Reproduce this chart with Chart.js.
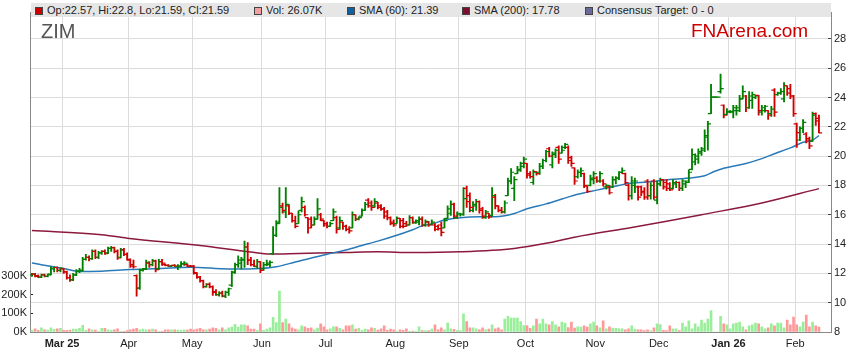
<!DOCTYPE html>
<html>
<head>
<meta charset="utf-8">
<script src="https://cdn.jsdelivr.net/npm/chart.js@4.4.1/dist/chart.umd.min.js"></script>
<style>
  body { margin: 0; background: #fff; font-family: "Liberation Sans", Arial, sans-serif; }
  #wrap { position: relative; width: 859px; height: 363px; }
  #legend { position: absolute; left: 31px; top: 3px; width: 800px; height: 14px; background: #e6e6e6; font-size: 11px; color: #222; }
  .sq { position: absolute; top: 4px; width: 6px; height: 6px; border: 1px solid #444; }
  .txt { position: absolute; top: 0; line-height: 14px; white-space: nowrap; }
  #ticker { position: absolute; left: 41px; top: 20px; font-size: 20px; color: #555; }
  #brand { position: absolute; left: 691px; top: 20px; font-size: 19px; color: #cc0000; }
</style>
</head>
<body>
<div id="wrap">
  <canvas id="myChart" width="859" height="363"></canvas>
  <div id="legend"></div>
  <div id="ticker">ZIM</div>
  <div id="brand">FNArena.com</div>
</div>
<script>
// daily bars, 14 Feb 2025 .. 11 Feb 2026 (index = trading day)
const opens = [
  11.9,11.95,11.85,11.75,11.9,11.8,11.95,12.3,12.4,12.2, 12.3,12.1,11.7,11.55,11.9,12.15,12.2,12.95,13.1,13.0,
  13.5,13.1,13.4,13.5,13.4,13.7,13.75,13.5,13.1,13.6, 13.3,12.9,12.6,11.85,11.0,12.2,12.3,12.7,12.6,12.85,
  12.3,12.8,12.6,12.55,12.5,12.55,12.45,12.5,12.65,12.6, 12.5,12.5,12.0,11.75,11.5,11.1,11.25,11.1,10.75,10.55,
  10.65,10.45,10.7,11.2,12.1,12.6,12.7,12.9,13.8,12.9, 12.6,12.45,12.8,12.3,12.6,12.6,13.35,14.6,15.5,16.6,
  16.2,16.6,16.1,15.6,15.4,16.3,16.5,15.8,15.7,15.3, 15.7,16.0,15.6,15.4,15.2,15.6,15.8,15.1,15.5,15.2,
  15.0,15.1,16.0,15.7,15.9,16.3,17.0,16.8,16.6,16.8, 16.6,16.4,16.2,15.8,15.5,15.4,15.75,15.6,15.4,15.3,
  15.8,15.45,15.5,15.7,15.3,15.5,15.35,15.3,15.2,15.3, 15.1,15.75,16.1,16.7,15.8,16.0,16.0,17.8,17.3,16.3,
  16.6,16.9,16.4,15.8,16.1,15.95,17.2,16.6,16.3,16.2, 17.3,18.3,17.8,18.8,19.0,19.3,19.5,18.8,18.2,18.95,
  18.9,19.3,19.7,20.5,19.4,20.1,20.6,20.2,20.6,20.6, 19.9,19.2,18.6,18.9,18.8,17.95,18.0,18.4,18.5,18.3,
  18.3,17.9,17.9,17.9,18.4,18.5,18.9,18.8,18.0,17.3, 18.0,17.9,17.9,17.6,18.3,17.3,18.3,17.0,18.1,18.4,
  18.2,18.1,17.8,18.1,18.2,17.8,18.1,18.3,19.1,19.6, 19.8,20.2,20.4,21.3,22.9,24.03,24.03,24.4,23.47,22.85,
  23.0,23.0,23.1,23.1,23.9,24.1,23.3,23.8,24.0,24.14, 23.0,23.1,23.1,22.9,24.5,24.2,24.3,23.9,24.8,24.6,
  24.1,22.2,21.1,21.9,21.5,21.2,21.0,22.9,22.57
];
const highs = [
  12.0,12.0,11.9,11.95,11.95,11.95,12.45,12.45,12.45,12.4, 12.35,12.15,11.9,12.0,12.25,12.35,13.1,13.3,13.2,13.6,
  13.6,13.5,13.55,13.6,13.8,13.85,13.8,13.6,13.7,13.7, 13.4,13.0,12.9,11.9,12.3,12.35,12.9,12.8,12.95,12.9,
  12.95,12.95,12.65,12.6,12.55,12.6,12.6,12.8,12.8,12.65, 12.55,12.55,12.05,11.8,11.55,11.3,11.35,11.15,10.9,10.75,
  10.8,10.8,11.0,12.15,12.7,13.2,13.1,14.2,14.1,13.1, 12.9,12.95,12.8,12.75,12.9,12.85,15.2,15.6,17.85,16.8,
  17.85,16.7,16.1,15.9,16.25,17.2,16.6,15.8,15.85,15.85, 17.1,16.1,15.6,15.5,15.5,16.4,15.9,15.85,15.5,15.3,
  15.2,16.2,16.0,15.85,16.4,16.85,17.1,16.95,17.1,16.85, 16.7,16.5,16.3,15.85,15.65,15.85,15.75,15.75,15.55,15.95,
  15.85,15.65,15.85,15.85,15.65,15.55,15.65,15.4,15.3,15.5, 15.75,16.6,16.95,16.8,16.2,16.1,17.85,17.96,17.5,16.9,
  17.05,16.95,16.5,16.3,16.1,17.85,17.4,16.6,16.5,16.95, 18.5,19.15,18.6,19.3,19.6,19.94,19.5,18.95,19.06,18.95,
  19.5,19.8,20.4,20.6,20.3,20.5,20.7,20.7,20.87,20.7, 20.0,19.2,19.06,19.2,18.85,17.96,18.7,18.95,18.6,18.95,
  18.4,18.05,18.0,18.6,18.6,18.95,19.2,18.85,18.07,18.6, 18.5,17.96,17.96,17.85,18.4,18.2,18.4,18.3,18.5,18.4,
  18.4,18.2,18.4,18.3,18.25,18.4,18.3,19.06,20.5,20.16, 20.5,20.6,21.8,22.37,24.9,24.03,24.03,25.6,23.5,23.25,
  23.1,23.47,23.47,24.14,24.8,24.14,24.4,24.36,24.14,24.14, 23.47,23.47,23.1,23.4,24.6,24.36,24.6,25.02,24.8,24.9,
  24.14,22.26,22.0,22.5,21.6,21.3,23.0,22.95,22.8
];
const lows = [
  11.8,11.75,11.7,11.7,11.75,11.75,11.9,12.1,12.1,12.1, 12.0,11.6,11.45,11.5,11.85,12.05,12.15,12.9,12.85,12.95,
  13.0,13.0,13.3,13.3,13.35,13.5,13.4,12.95,13.05,13.2, 12.9,12.4,12.35,10.45,10.9,12.15,12.25,12.4,12.5,12.1,
  12.25,12.55,12.5,12.45,12.45,12.45,12.25,12.45,12.55,12.45, 12.45,11.95,11.65,11.4,11.0,11.05,11.0,10.5,10.5,10.45,
  10.4,10.35,10.5,11.1,12.0,12.4,12.3,12.4,12.6,12.5, 12.45,12.35,12.05,12.2,12.5,12.45,13.3,14.5,15.4,16.1,
  15.8,16.0,15.5,15.1,15.4,16.2,15.9,14.75,15.1,15.3, 15.7,15.6,15.2,15.1,15.2,15.6,14.75,15.0,15.0,14.9,
  14.75,15.1,15.6,15.65,15.9,16.3,16.5,16.3,16.5,16.4, 16.3,15.75,15.65,15.3,15.2,15.4,15.1,15.1,15.2,15.3,
  15.4,15.4,15.3,15.2,15.2,15.2,15.3,14.9,14.95,14.55, 15.1,15.75,15.95,15.75,15.75,15.9,15.95,16.5,16.2,16.2,
  16.3,16.1,15.75,15.75,15.75,15.9,16.4,16.2,16.1,16.1, 17.3,18.1,16.96,18.8,18.95,19.2,18.5,18.5,18.07,18.7,
  18.75,19.15,19.6,19.94,19.2,19.9,19.5,20.2,20.5,19.5, 19.3,18.07,18.5,18.6,17.85,17.5,17.96,18.1,18.2,18.2,
  17.96,17.74,17.4,17.85,18.1,18.4,18.8,18.07,17.0,17.07, 17.5,17.0,17.3,17.05,17.05,17.07,17.05,16.74,17.96,17.74,
  17.65,17.65,17.74,17.85,17.65,17.65,17.85,18.18,19.06,19.4, 19.5,20.05,20.3,20.4,22.9,24.03,24.03,24.3,22.6,22.8,
  22.95,22.6,22.8,23.03,23.9,23.03,23.25,23.25,23.92,22.8, 22.8,23.0,22.5,22.7,22.7,24.14,24.2,23.7,24.14,23.92,
  22.7,20.6,21.05,21.6,20.9,20.5,21.0,22.1,21.59
];
const closes = [
  11.95,11.8,11.75,11.9,11.8,11.9,12.35,12.4,12.2,12.35, 12.1,11.7,11.55,11.9,12.15,12.2,12.95,13.1,13.0,13.5,
  13.1,13.4,13.5,13.35,13.7,13.75,13.5,13.05,13.6,13.3, 12.95,12.5,12.45,11.0,12.2,12.3,12.75,12.6,12.85,12.25,
  12.8,12.7,12.55,12.5,12.55,12.5,12.5,12.65,12.7,12.5, 12.48,12.05,11.75,11.5,11.1,11.25,11.1,10.7,10.55,10.65,
  10.45,10.7,10.95,12.05,12.6,12.9,12.95,13.8,12.9,12.6, 12.5,12.8,12.2,12.6,12.7,12.75,14.6,15.4,16.5,16.3,
  16.7,16.1,15.6,15.2,16.0,16.9,16.0,15.1,15.3,15.7, 16.4,15.7,15.3,15.2,15.4,16.2,15.0,15.6,15.2,15.0,
  14.9,16.0,15.7,15.8,16.3,16.7,16.6,16.5,16.9,16.5, 16.4,15.9,15.8,15.4,15.3,15.75,15.2,15.2,15.3,15.8,
  15.5,15.6,15.7,15.3,15.55,15.3,15.5,15.0,15.05,14.8, 15.6,16.4,16.7,15.9,16.1,16.05,17.1,16.9,16.5,16.7,
  16.9,16.3,15.9,16.2,15.85,17.3,16.6,16.3,16.2,16.8, 18.3,18.9,18.4,19.1,19.5,19.8,18.7,18.6,18.9,18.8,
  19.3,19.7,20.3,20.0,20.2,20.4,19.8,20.4,20.8,19.7, 19.5,18.3,18.9,19.0,18.0,17.6,18.5,18.8,18.3,18.8,
  18.1,18.0,17.5,18.4,18.5,18.9,19.0,18.2,17.3,18.3, 18.3,17.2,17.5,17.2,17.3,18.0,17.2,18.1,18.4,17.9,
  17.8,17.7,18.2,18.2,17.8,18.3,18.2,18.9,20.1,20.0, 20.3,20.5,21.4,22.2,24.03,24.03,24.03,24.6,22.8,23.05,
  23.05,23.3,23.3,23.9,24.4,23.3,24.1,24.2,24.1,23.1, 23.3,23.4,22.8,23.2,23.0,24.3,24.4,24.8,24.3,24.1,
  22.9,21.6,21.9,22.3,21.1,20.7,22.8,22.4,21.59
];
// volume in thousands of shares
const volumes = [
  10,17,9,22,12,10,22,14,17,19, 9,9,10,15,14,19,35,9,17,12, 10,4,19,19,12,9,12,17,4,4,
  7,12,15,19,12,15,12,12,15,12, 4,4,12,12,12,12,10,9,12,10, 15,12,15,19,12,12,15,22,19,12,
  22,12,22,26,41,26,38,38,33,15, 15,9,43,9,15,22,78,50,219,50,
  69,43,22,15,12,33,28,19,22,12, 21,43,28,12,17,28,28,19,12,33, 33,38,15,19,9,15,12,22,19,10,
  17,33,9,15,12,5,12,9,17,5, 5,3,28,7,7,7,15,38,12,22, 12,48,17,14,9,7,97,55,22,22,
  17,12,22,12,15,38,17,22,12,69, 84,74,74,74,55,34,34,19,33,69, 43,69,43,38,55,38,
  28,53,48,24,53,21,28,26,33,26, 43,53,33,22,59,17,28,19,19,17, 17,12,17,33,15,12,12,7,12,7,
  22,43,40,9,7,33,17,17,7,48, 28,59,17,43,28,64,48,69,115,0, 0,84,43,38,17,43,48,53,28,12,
  33,38,48,43,28,17,22,43,33,48, 48,22,64,38,79,38,28,53,90,28, 53,33,26.07
];
const sma60Days = [0,10,15,22,31,40,50,62,68,72, 77,83,89,93,99,104,109,114,120,123,
  126,130,135,141,146,149,152,156,162,167, 172,178,183,188,194,201,207,212,215,218, 225,230,234,239,243,246,248];
const sma60 = [12.7,12.33,12.12,12.15,12.26,12.33,12.42,12.3,12.3,12.33, 12.45,12.77,13.1,13.3,13.6,13.9,14.2,14.53,14.98,15.24,
  15.37,15.64,15.8,15.86,15.86,15.93,16.08,16.41,16.74,17.07, 17.4,17.68,17.9,18.14,18.24,18.4,18.5,18.66,18.95,19.17,
  19.5,19.83,20.16,20.56,20.94,21.1,21.39];
const sma200Days = [0,22,30,53,69,75,84,99,109,120,135,152,162,171,189,200,211,230,248];
const sma200 = [14.92,14.64,14.4,13.9,13.45,13.32,13.36,13.43,13.47,13.42,13.47,13.7,14.05,14.47,15.13,15.55,16.0,16.8,17.78];

const monthStarts = [10,31,51,73,93,115,135,156,178,198,220,241];
const monthLabels = ['Mar 25','Apr','May','Jun','Jul','Aug','Sep','Oct','Nov','Dec','Jan 26','Feb'];
const priceTicks = [8,10,12,14,16,18,20,22,24,26,28];
const volTicks = [0,100,200,300];

window.addEventListener("load", setupChart);

function setupChart() {
  const n = closes.length - 1;
  const items = [
    ['#cc0000', 'Op:' + opens[n] + ', Hi:' + highs[n] + ', Lo:' + lows[n] + ', Cl:' + closes[n], 4],
    ['#f4a0a0', 'Vol: ' + volumes[n].toFixed(2) + 'K', 223],
    ['#1060a0', 'SMA (60): ' + sma60[sma60.length - 1], 316],
    ['#7a1030', 'SMA (200): ' + sma200[sma200.length - 1], 431],
    ['#6a6a9a', 'Consensus Target: 0 - 0', 554]
  ];
  const legend = document.getElementById('legend');
  items.forEach(it => {
    const sq = document.createElement('div');
    sq.className = 'sq';
    sq.style.left = it[2] + 'px';
    sq.style.background = it[0];
    legend.appendChild(sq);
    const t = document.createElement('div');
    t.className = 'txt';
    t.style.left = (it[2] + 12) + 'px';
    t.textContent = it[1];
    legend.appendChild(t);
  });

  Chart.defaults.font.family = '"Liberation Sans", Arial, sans-serif';
  Chart.defaults.font.size = 11;
  Chart.defaults.color = '#222';

  const up = closes.map((c, i) => c >= opens[i]);
  const barColors = up.map(u => u ? '#008000' : '#d00000');
  const volColors = up.map(u => u ? '#99ee99' : '#ff9999');

  const ctx = document.getElementById('myChart').getContext('2d');
  new Chart(ctx, {
    type: 'bar',
    data: {
      datasets: [{
        type: 'bar',
        label: 'Vol',
        data: volumes.map((v, i) => ({x: i, y: v * 1000})),
        yAxisID: 'yv',
        backgroundColor: volColors,
        barThickness: 2,
        grouped: false,
        order: 10
      }, {
        type: 'line',
        label: 'SMA (200)',
        data: sma200Days.map((d, i) => ({x: d, y: sma200[i]})),
        yAxisID: 'y',
        borderColor: '#8b1a3c',
        borderWidth: 1.5,
        pointRadius: 0,
        cubicInterpolationMode: 'monotone',
        order: 6
      }, {
        type: 'line',
        label: 'SMA (60)',
        data: sma60Days.map((d, i) => ({x: d, y: sma60[i]})),
        yAxisID: 'y',
        borderColor: '#2a7ab8',
        borderWidth: 1.5,
        pointRadius: 0,
        cubicInterpolationMode: 'monotone',
        order: 5
      }, {
        type: 'bar',
        label: 'Range',
        data: lows.map((l, i) => ({x: i, y: [l, highs[i]]})),
        yAxisID: 'y',
        backgroundColor: barColors,
        barThickness: 1.2,
        grouped: false,
        order: 2
      }, {
        type: 'line',
        label: 'Open',
        data: opens.map((o, i) => ({x: i - 0.5, y: o})),
        yAxisID: 'y',
        showLine: false,
        pointStyle: 'line',
        pointRadius: 1.6,
        pointBorderWidth: 1.2,
        pointBorderColor: barColors,
        order: 1
      }, {
        type: 'line',
        label: 'Close',
        data: closes.map((c, i) => ({x: i + 0.5, y: c})),
        yAxisID: 'y',
        showLine: false,
        pointStyle: 'line',
        pointRadius: 1.6,
        pointBorderWidth: 1.2,
        pointBorderColor: barColors,
        order: 1
      }]
    },
    options: {
      responsive: false,
      animation: false,
      devicePixelRatio: 1,
      layout: { padding: { top: 3, left: 0, right: 0, bottom: 0 } },
      plugins: { legend: { display: false }, tooltip: { enabled: false } },
      scales: {
        x: {
          type: 'linear',
          offset: false,
          min: -0.6,
          max: 251.8,
          afterBuildTicks: s => { s.ticks = monthStarts.map(v => ({value: v - 0.5})); },
          afterFit: s => { s.height = 31; },
          ticks: {
            autoSkip: false,
            maxRotation: 0,
            padding: 5,
            callback: (v, i) => monthLabels[i],
            font: c => ({ size: 11, weight: /\d/.test(monthLabels[c.index] || '') ? 'bold' : 'normal' })
          },
          grid: { color: '#dcdcdc', drawTicks: false, offset: false },
          border: { color: '#888' }
        },
        y: {
          position: 'right',
          min: 8,
          max: 29.79,
          afterBuildTicks: s => { s.ticks = priceTicks.map(v => ({value: v})); },
          afterFit: s => { s.width = 28; },
          ticks: { padding: 6 },
          grid: { color: '#dcdcdc', tickColor: '#444', tickLength: -3 },
          border: { color: '#888' }
        },
        yv: {
          position: 'left',
          min: 0,
          max: 1705000,
          afterBuildTicks: s => { s.ticks = volTicks.map(v => ({value: v * 1000})); },
          afterFit: s => { s.width = 30; },
          ticks: { padding: 6, callback: v => (v / 1000) + 'K' },
          grid: { drawOnChartArea: false, tickColor: '#222', tickLength: -3 },
          border: { color: '#888' }
        }
      }
    }
  });
}
</script>
</body>
</html>
